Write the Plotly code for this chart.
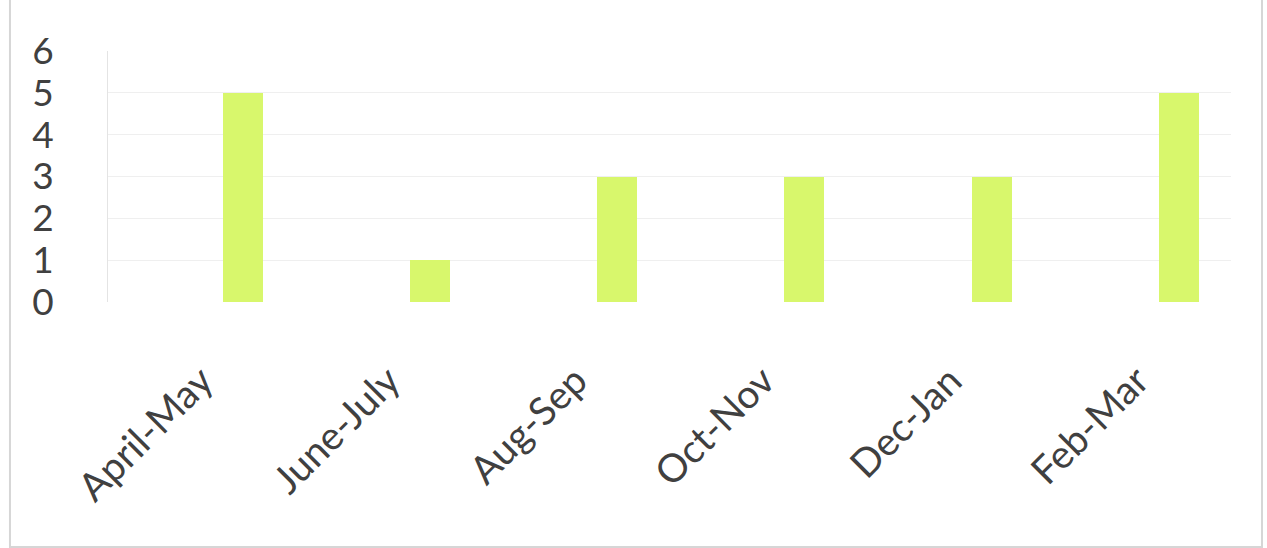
import plotly.graph_objects as go

# Two-month periods and the count recorded for each
periods = ["April-May", "June-July", "Aug-Sep", "Oct-Nov", "Dec-Jan", "Feb-Mar"]
counts = [5, 1, 3, 3, 3, 5]
y_ticks = [0, 1, 2, 3, 4, 5, 6]

BAR_COLOR = "#d8f76c"
TEXT_COLOR = "#404040"
FONT = "Lato"

fig = go.Figure()
fig.add_trace(
    go.Bar(
        x=periods,
        y=counts,
        marker=dict(color=BAR_COLOR, line=dict(width=0)),
        width=0.214,
        offset=0.114,
        showlegend=False,
    )
)

# Outer chart border
fig.add_shape(
    type="rect",
    xref="paper", yref="paper",
    x0=-0.0873, x1=1.0276, y0=-0.976, y1=1.21,
    line=dict(color="#d6d6d6", width=2),
    fillcolor="rgba(0,0,0,0)",
    layer="below",
)

fig.update_layout(
    width=1267,
    height=548,
    margin=dict(l=108, r=36, t=51, b=246),
    paper_bgcolor="white",
    plot_bgcolor="white",
    font=dict(family=FONT, color=TEXT_COLOR, size=36),
    bargap=0,
)
fig.update_xaxes(
    type="category",
    tickangle=-45,
    tickfont=dict(size=39, family=FONT, color=TEXT_COLOR),
    showgrid=False,
    showline=False,
    zeroline=False,
    ticks="",
    ticklabelstandoff=47,
)
fig.update_yaxes(
    range=[0, 6],
    tickvals=y_ticks,
    ticktext=[str(v) for v in y_ticks],
    tickfont=dict(size=37, family=FONT, color=TEXT_COLOR),
    showgrid=True,
    gridcolor="#efefef",
    gridwidth=1,
    zeroline=False,
    showline=True,
    linecolor="#e4e4e4",
    linewidth=1,
    ticks="",
    ticklabelstandoff=46,
)

fig.write_html("out.html")
